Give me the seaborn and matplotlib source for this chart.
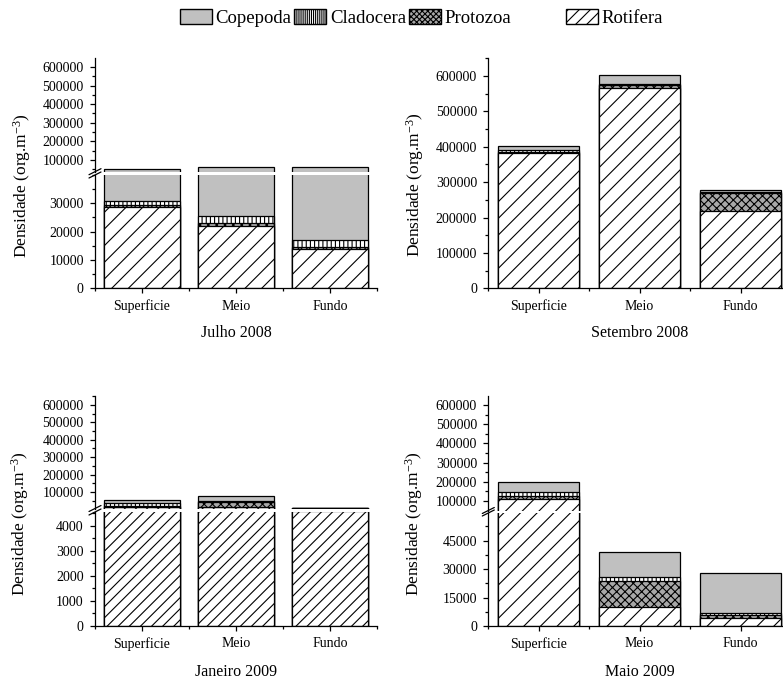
import numpy as np
import matplotlib.pyplot as plt
import seaborn as sns
from matplotlib.patches import Patch
from matplotlib.lines import Line2D
from matplotlib.ticker import MultipleLocator, FixedLocator

sns.set_style('ticks', {'axes.edgecolor': 'black', 'xtick.color': 'black',
                        'ytick.color': 'black', 'text.color': 'black'})
plt.rcParams['font.family'] = ['Liberation Serif', 'DejaVu Serif']
plt.rcParams['mathtext.fontset'] = 'custom'
plt.rcParams['mathtext.rm'] = 'Liberation Serif'
plt.rcParams['mathtext.default'] = 'regular'
plt.rcParams['hatch.linewidth'] = 0.8

sites = ['Superficie', 'Meio', 'Fundo']
taxa = ['Rotifera', 'Protozoa', 'Cladocera', 'Copepoda']

# densities (org.m-3)
jul_rotifera = [28600, 22000, 13800]
jul_protozoa = [700, 900, 900]
jul_cladocera = [1600, 2600, 2400]
jul_copepoda = [21100, 38500, 47400]

set_rotifera = [383600, 567400, 218700]
set_protozoa = [2500, 7000, 51800]
set_cladocera = [5000, 3300, 1800]
set_copepoda = [12300, 25500, 5700]

jan_rotifera = [13100, 15000, 4600]
jan_protozoa = [8000, 29000, 0]
jan_cladocera = [13400, 3700, 0]
jan_copepoda = [19000, 28900, 0]

mai_rotifera = [108900, 9800, 4400]
mai_protozoa = [18700, 13900, 1200]
mai_cladocera = [17700, 2100, 1400]
mai_copepoda = [55200, 13100, 21100]

styles = {'Copepoda': ('#c0c0c0', None),
          'Cladocera': ('white', '||||'),
          'Protozoa': ('#a8a8a8', 'xxxx'),
          'Rotifera': ('white', '//')}

W, H = 783, 679
fig = plt.figure(figsize=(W / 100, H / 100), dpi=100)


def add_ax(x0, x1, y0, y1):
    # pixel box measured from the top-left corner
    return fig.add_axes([x0 / W, 1 - y1 / H, (x1 - x0) / W, (y1 - y0) / H])


def draw_stack(ax, layers, rot_hatch='//'):
    cum = np.zeros(len(sites))
    tops = []
    for name, vals in zip(taxa, layers):
        cum = cum + np.array(vals)
        tops.append((name, cum.copy()))
    # draw the tallest first, each lower layer is painted over it
    for name, top in reversed(tops):
        fc, hatch = styles[name]
        if name == 'Rotifera':
            hatch = rot_hatch
        sns.barplot(x=sites, y=top, ax=ax, color=fc, hatch=hatch,
                    edgecolor='black', linewidth=0.9, saturation=1,
                    errorbar=None, width=0.8)
    ax.set_xlim(-0.5, 2.5)
    ax.tick_params(which='major', direction='out', length=3.6, width=0.9,
                   labelsize=10, pad=4.5)
    ax.tick_params(which='minor', direction='out', length=2.2, width=0.9)
    ax.set_xlabel('')
    ax.set_ylabel('')


def style_lower(ax, ylim, major, minor):
    ax.set_ylim(*ylim)
    ax.yaxis.set_major_locator(FixedLocator(major))
    ax.yaxis.set_minor_locator(MultipleLocator(minor))
    ax.xaxis.set_minor_locator(FixedLocator([-0.5, 0.5, 1.5, 2.5]))
    for s in ['top', 'right']:
        ax.spines[s].set_visible(False)
    for s in ['left', 'bottom']:
        ax.spines[s].set_linewidth(0.9)


def style_upper(ax, ylim):
    ax.set_ylim(*ylim)
    ax.yaxis.set_major_locator(FixedLocator([100000, 200000, 300000, 400000, 500000, 600000]))
    ax.yaxis.set_minor_locator(MultipleLocator(50000))
    for s in ['top', 'right', 'bottom']:
        ax.spines[s].set_visible(False)
    ax.spines['left'].set_linewidth(0.9)
    ax.tick_params(axis='x', which='both', bottom=False, labelbottom=False)


def break_marks(x, y_up, y_low):
    for y in (y_up, y_low):
        fig.add_artist(Line2D([(x - 6) / W, (x + 6) / W],
                              [1 - (y + 3) / H, 1 - (y - 3) / H],
                              color='black', lw=0.9))


def broken_panel(x0, x1, up, low, up_lim, low_lim, low_major, low_minor, layers, rot_hatch):
    ax_up = add_ax(x0, x1, up[0], up[1])
    ax_low = add_ax(x0, x1, low[0], low[1])
    draw_stack(ax_up, layers, rot_hatch)
    draw_stack(ax_low, layers, rot_hatch)
    style_upper(ax_up, up_lim)
    style_lower(ax_low, low_lim, low_major, low_minor)
    break_marks(x0, up[1], low[0])
    return ax_up, ax_low


# Julho 2008
broken_panel(95, 377, (58, 171.7), (175, 288.3), (37000, 648000), (0, 40000),
             [0, 10000, 20000, 30000], 5000,
             [jul_rotifera, jul_protozoa, jul_cladocera, jul_copepoda], '//')

# Setembro 2008
ax2 = add_ax(488.3, 791, 58.3, 288.3)
draw_stack(ax2, [set_rotifera, set_protozoa, set_cladocera, set_copepoda], '//')
style_lower(ax2, (0, 650000), [0, 100000, 200000, 300000, 400000, 500000, 600000], 50000)

# Janeiro 2009
broken_panel(95, 377, (396, 508.5), (512, 626), (4500, 652000), (0, 4545),
             [0, 1000, 2000, 3000, 4000], 500,
             [jan_rotifera, jan_protozoa, jan_cladocera, jan_copepoda], '///')

# Maio 2009
broken_panel(488.3, 791, (396, 510.5), (513, 626), (50500, 647000), (0, 59600),
             [0, 15000, 30000, 45000], 7500,
             [mai_rotifera, mai_protozoa, mai_cladocera, mai_copepoda], '//')

ylab = 'Densidade (org.m$^{-3}$)'
for x, y in [(22, 186), (415, 185), (20, 524), (414, 524)]:
    fig.text(x / W, 1 - y / H, ylab, rotation=90, ha='center', va='center', fontsize=12.5)

for x, y, t in [(236, 333, 'Julho 2008'), (640, 333, 'Setembro 2008'),
                (236, 672, 'Janeiro 2009'), (640, 672, 'Maio 2009')]:
    fig.text(x / W, 1 - y / H, t, ha='center', va='center', fontsize=11.5)

handles = [Patch(facecolor='#c0c0c0', edgecolor='black', label='Copepoda'),
           Patch(facecolor='white', edgecolor='black', hatch='||||||||', label='Cladocera'),
           Patch(facecolor='#a8a8a8', edgecolor='black', hatch='xxxxxx', label='Protozoa'),
           Patch(facecolor='white', edgecolor='black', hatch='///', label='Rotifera')]
leg_kw = dict(frameon=False, fontsize=13.5, handlelength=1.7, handleheight=0.8,
              handletextpad=0.2, columnspacing=0.15, borderpad=0, borderaxespad=0)
# first three entries, then Rotifera set a little further right as in the original
fig.legend(handles=handles[:3], loc='center left', bbox_to_anchor=(180 / W, 1 - 18 / H),
           ncol=3, **leg_kw)
fig.legend(handles=handles[3:], loc='center left', bbox_to_anchor=(566 / W, 1 - 18 / H),
           ncol=1, **leg_kw)

fig.savefig('out.png', dpi=100)
